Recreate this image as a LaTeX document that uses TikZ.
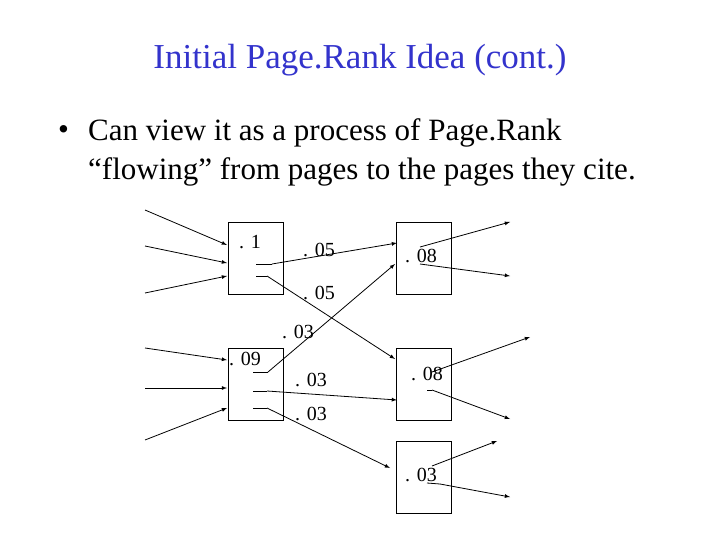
\documentclass[tikz,border=0pt]{standalone}
\usepackage{fontspec}
\setmainfont{Liberation Serif}
\definecolor{titleblue}{RGB}{51,51,204}
\begin{document}
\begin{tikzpicture}[x=1pt,y=-1pt,
  pg/.style={draw,thick,minimum width=55pt,minimum height=72pt,inner sep=0},
  lab/.style={font=\fontsize{20}{20}\selectfont,inner sep=0},
  ar/.style={thick,-latex},
  st/.style={thick}]
\useasboundingbox (0,0) rectangle (720,540);
\node[text=titleblue,font=\fontsize{35}{35}\selectfont] (title) at (360,60) {Initial Page.Rank Idea (cont.)};
\node[anchor=west,font=\fontsize{31}{31}\selectfont,inner sep=0] (bul) at (58,133) {\textbullet};
\node[anchor=west,font=\fontsize{31}{31}\selectfont,inner sep=0] (l1t) at (88,133) {Can view it as a process of Page.Rank};
\node[anchor=west,font=\fontsize{31}{31}\selectfont,inner sep=0] (l2t) at (88,172) {“flowing” from pages to the pages they cite.};
\node[pg] (A) at (255.5,258) {};
\node[pg] (B) at (255.5,384) {};
\node[pg] (C) at (424,258) {};
\node[pg] (D) at (424,384) {};
\node[pg] (E) at (424,477) {};
% inbound
\coordinate (i1) at (145,210); \coordinate (t1) at (227,245);
\coordinate (i2) at (145,246); \coordinate (t2) at (227,263);
\coordinate (i3) at (145,293); \coordinate (t3) at (227,276);
\coordinate (i4) at (145,348); \coordinate (t4) at (227,360);
\coordinate (i5) at (145,388); \coordinate (t5) at (227,388);
\coordinate (i6) at (145,440); \coordinate (t6) at (227,408);
\foreach \k in {1,...,6}{\draw[ar] (i\k) -- (t\k);}
% stubs A
\coordinate (a1s) at (256,264); \coordinate (a1e) at (272,264);
\coordinate (a2s) at (256,276); \coordinate (a2e) at (267,276);
\draw[st] (a1s) -- (a1e); \draw[ar] (a1e) -- (397,243) coordinate (c1);
\draw[st] (a2s) -- (a2e); \draw[ar] (a2e) -- (395,359) coordinate (d1);
% stubs B
\coordinate (b1s) at (253,372); \coordinate (b1e) at (268,372);
\coordinate (b2s) at (253,391); \coordinate (b2e) at (267,391);
\coordinate (b3s) at (253,408); \coordinate (b3e) at (267,408);
\draw[st] (b1s) -- (b1e); \draw[ar] (b1e) -- (395,264) coordinate (c2);
\draw[st] (b2s) -- (b2e); \draw[ar] (b2e) -- (397,400) coordinate (d2);
\draw[st] (b3s) -- (b3e); \draw[ar] (b3e) -- (390,468) coordinate (e1);
% outbound
\draw[ar] (420,247) coordinate (co1) -- (510,222) coordinate (cx1);
\draw[ar] (420,264) coordinate (co2) -- (510,276) coordinate (cx2);
\draw[ar] (432,372) coordinate (do1) -- (530,337) coordinate (dx1);
\draw[st] (427,390) coordinate (do2s) -- (432,390) coordinate (do2);
\draw[ar] (do2) -- (510,419) coordinate (dx2);
\draw[ar] (432,466) coordinate (eo1) -- (497,441) coordinate (ex1);
\draw[st] (427,483) coordinate (eo2s) -- (440,484) coordinate (eo2);
\draw[ar] (eo2) -- (510,497) coordinate (ex2);
% labels
\node[lab] (l1) at (250,242) {. 1};
\node[lab] (l2) at (319,250) {. 05};
\node[lab] (l3) at (319,293) {. 05};
\node[lab] (l4) at (298,332) {. 03};
\node[lab] (l5) at (245,359) {. 09};
\node[lab] (l6) at (311,380) {. 03};
\node[lab] (l7) at (311,414) {. 03};
\node[lab] (l8) at (421,256) {. 08};
\node[lab] (l9) at (427,374) {. 08};
\node[lab] (l10) at (421,475) {. 03};
\end{tikzpicture}
\end{document}
